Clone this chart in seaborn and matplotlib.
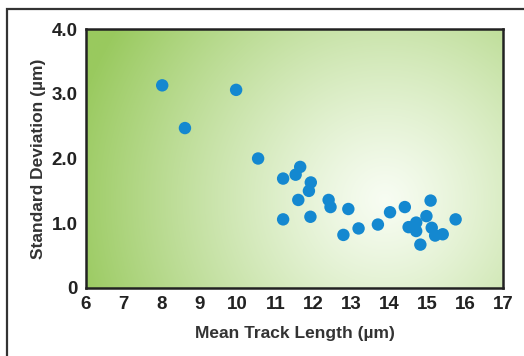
import numpy as np
import pandas as pd
import matplotlib
matplotlib.use("Agg")
import matplotlib.pyplot as plt
import seaborn as sns
from matplotlib.patches import Rectangle

# Mean track length vs. standard deviation of track length
mean_length = [8.01, 8.61, 9.96, 10.54, 11.20, 11.53, 11.65, 11.93, 11.88, 11.60,
               11.20, 11.92, 12.40, 12.45, 12.92, 12.79, 13.19, 13.70, 14.02, 14.41,
               14.51, 14.71, 14.71, 14.82, 14.98, 15.09, 15.12, 15.21, 15.41, 15.75]
std_dev = [3.13, 2.47, 3.06, 2.00, 1.69, 1.75, 1.87, 1.63, 1.50, 1.36,
           1.06, 1.10, 1.36, 1.25, 1.22, 0.82, 0.92, 0.98, 1.17, 1.25,
           0.94, 1.01, 0.88, 0.67, 1.11, 1.35, 0.93, 0.81, 0.83, 1.06]

x_ticks = [6, 7, 8, 9, 10, 11, 12, 13, 14, 15, 16, 17]
y_ticks = [0, 1, 2, 3, 4]
y_tick_labels = ["0", "1.0", "2.0", "3.0", "4.0"]

df = pd.DataFrame({"length": mean_length, "sd": std_dev})

sns.set_theme(style="white")
plt.rcParams["font.family"] = ["Liberation Sans", "DejaVu Sans"]

W, H = 524, 356
fig = plt.figure(figsize=(W / 100, H / 100), dpi=100)
fig.patch.set_facecolor("white")

# outer frame (open at right and bottom)
fig.add_artist(Rectangle((7 / W, -0.1), 1.2, 1 - 9 / H + 0.1, transform=fig.transFigure,
                         fill=False, edgecolor="#333333", linewidth=1.6))

ax = fig.add_axes([86 / W, 1 - 288 / H, 417 / W, 259 / H])

# radial green-to-white background
gx = np.linspace(86, 503, 420)
gy = np.linspace(29, 288, 260)
GX, GY = np.meshgrid(gx, gy)
d = np.hypot(GX - 385, GY - 200)
t = np.clip(d / 320, 0, 1) ** 1.2
green = np.array([0.60, 0.79, 0.37])
white = np.array([0.97, 0.99, 0.95])
img = white[None, None, :] * (1 - t[..., None]) + green[None, None, :] * t[..., None]
ax.imshow(img, extent=[6, 17, 0, 4], origin="upper", aspect="auto", zorder=0)

sns.scatterplot(data=df, x="length", y="sd", ax=ax, s=80, color="#1488d0",
                edgecolor="none", linewidth=0, zorder=3, legend=False)

ax.set_xlim(6, 17)
ax.set_ylim(0, 4)
ax.set_xticks(x_ticks)
ax.set_xticklabels([str(v) for v in x_ticks])
ax.set_yticks(y_ticks)
ax.set_yticklabels(y_tick_labels)
ax.tick_params(direction="in", length=7, width=1.6, color="#222222",
               labelsize=13.5, labelcolor="#222222", pad=6)
ax.tick_params(axis="x", pad=6)
for lab in ax.get_xticklabels() + ax.get_yticklabels():
    lab.set_fontweight("bold")
for sp in ax.spines.values():
    sp.set_visible(True)
    sp.set_linewidth(1.8)
    sp.set_color("#222222")

ax.set_xlabel("Mean Track Length (µm)", fontsize=12.5, fontweight="bold",
              color="#333333", labelpad=9)
ax.set_ylabel("Standard Deviation (µm)", fontsize=12.5, fontweight="bold",
              color="#333333", labelpad=4)

fig.savefig("out.png", dpi=100)
